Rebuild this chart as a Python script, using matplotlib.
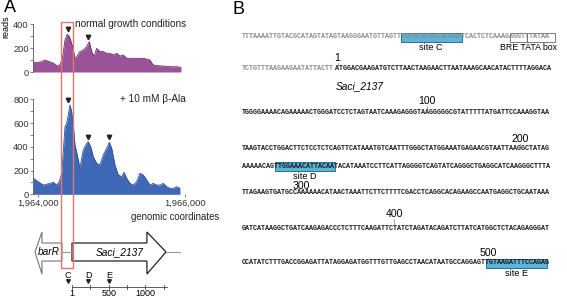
import numpy as np
import matplotlib.pyplot as plt
from matplotlib.patches import Rectangle, Polygon
from matplotlib.transforms import blended_transform_factory, offset_copy

plt.rcParams['font.family'] = ['Liberation Sans', 'DejaVu Sans']

W, H = 567, 299

# read coverage (genomic position, reads)
pos_normal = [1963932, 1963959, 1964000, 1964041, 1964095, 1964136, 1964190, 1964231,
              1964272, 1964309, 1964336, 1964367, 1964398, 1964422, 1964435, 1964472,
              1964503, 1964526, 1964571, 1964616, 1964662, 1964698, 1964730, 1964762,
              1964798, 1964843, 1964888, 1964934, 1964979, 1965024, 1965070, 1965115,
              1965160, 1965206, 1965251, 1965342, 1965432, 1965523, 1965564, 1965614,
              1965704, 1965795, 1965886, 1965945]
reads_normal = [75, 81, 80, 85, 100, 90, 78, 65,
                46, 72, 128, 267, 314, 300, 280, 211,
                114, 128, 170, 183, 211, 253, 170, 128,
                197, 170, 170, 156, 156, 142, 156, 133,
                142, 114, 114, 114, 114, 100, 60, 53,
                50, 44, 44, 39]

pos_ala = [1963936, 1964004, 1964072, 1964163, 1964208, 1964254, 1964290, 1964322,
           1964344, 1964367, 1964390, 1964412, 1964435, 1964458, 1964480, 1964503,
           1964534, 1964571, 1964594, 1964616, 1964662, 1964684, 1964717, 1964752,
           1964798, 1964843, 1964888, 1964934, 1964970, 1965003, 1965047, 1965092,
           1965138, 1965170, 1965206, 1965251, 1965296, 1965342, 1965387, 1965432,
           1965478, 1965523, 1965568, 1965614, 1965659, 1965704, 1965750, 1965795,
           1965840, 1965886, 1965931]
reads_ala = [135, 106, 78, 92, 101, 78, 106, 177,
             359, 569, 598, 668, 752, 695, 583, 415,
             331, 219, 303, 373, 429, 443, 401, 317,
             261, 247, 331, 387, 438, 387, 247, 163,
             148, 185, 135, 92, 78, 106, 177, 163,
             121, 78, 92, 78, 78, 92, 64, 50,
             50, 64, 50]

gene_start = 1964462
gene_len = 1280
barR_right = 1964326
barR_tip = 1963959
right_end = 1965931
sites = ['C', 'D', 'E']
site_pos = [-54, 224, 507]       # relative to start codon
sites_normal = ['C', 'D']
sites_ala = ['C', 'D', 'E']

# sequence panel
seq_lines = [
    "TTTAAAATTGTACGCATAGTATAGTAAGGGAATGTTAGTTTGTATATAATACAAATCACTCTCAAAGAGGTTTATAA",
    "TCTGTTTAAGAAGAATATTACTTATGGACGAAGATGTCTTAACTAAGAACTTAATAAAGCAACATACTTTTAGGACA",
    "TGGGGAAAACAGAAAAACTGGGATCCTCTAGTAATCAAAGAGGGTAAGGGGGCGTATTTTTATGATTCCAAAGGTAA",
    "TAAGTACCTGGACTTCTCCTCTCAGTTCATAAATGTCAATTTGGGCTATGGAAATGAGAACGTAATTAAGGCTATAG",
    "AAAAACAGTTGGAAACATTACAATACATAAATCCTTCATTAGGGGTCAGTATCAGGGCTGAGGCATCAAGGGCTTTA",
    "TTAGAAGTGATGCCAAAAAACATAACTAAATTCTTCTTTTCGACCTCAGGCACAGAAGCCAATGAGGCTGCAATAAA",
    "GATCATAAGGCTGATCAAGAGACCCTCTTTCAAGATTCTATCTAGATACAGATCTTATCATGGCTCTACAGAGGGAT",
    "CCATATCTTTGACCGGAGATTATAGGAGATGGTTTGTTGAGCCTAACATAATGCCAGGAGTTGTAAGATTTCCAGAG",
]
line_y = [37, 69, 112, 149, 166, 193, 229, 263]
atg_index = 77 + 23
site_boxes = [('site C', 0, 39, 54), ('site D', 4, 8, 23), ('site E', 7, 60, 75)]
promoter_boxes = [(0, 66, 70), (0, 70, 77)]
seq_marks = [1, 100, 200, 300, 400, 500]
mark_y = [58, 101, 139, 186, 214, 253]

fig = plt.figure(figsize=(W / 100, H / 100), dpi=100)


def rect(l, t, r, b):
    return [l / W, 1 - b / H, (r - l) / W, (b - t) / H]


ax1 = fig.add_axes(rect(33, 24, 185, 72))
ax2 = fig.add_axes(rect(33, 99.3, 185, 194.3))
ov = fig.add_axes([0, 0, 1, 1])
ov.set_xlim(0, W)
ov.set_ylim(H, 0)
ov.axis('off')
ov.patch.set_alpha(0)

site_g = dict(zip(sites, [gene_start + p for p in site_pos]))

for ax, pos, reads, fc, ec, top, mk in [
        (ax1, pos_normal, reads_normal, '#9a5399', '#6a2a6a', 400, sites_normal),
        (ax2, pos_ala, reads_ala, '#3f68b6', '#284f9c', 800, sites_ala)]:
    ax.fill_between(pos, reads, color=fc, lw=0)
    ax.plot(pos, reads, color=ec, lw=0.6)
    ax.set_xlim(1963932, 1966000)
    ax.set_ylim(0, top)
    for s in ['top', 'right', 'bottom']:
        ax.spines[s].set_visible(False)
    ax.spines['left'].set_color('#555555')
    ax.spines['left'].set_linewidth(0.6)
    ax.set_yticks(np.arange(0, top + 1, 200))
    ax.set_yticks(np.arange(0, top + 1, 100), minor=True)
    ax.tick_params(axis='y', which='both', length=2, width=0.5, color='#555555',
                   labelsize=6.7, labelcolor='#333333', pad=1)
    ax.patch.set_alpha(0)
    tr = offset_copy(ax.transData, fig=fig, y=3.5, units='points')
    p = np.array(pos)
    r = np.array(reads)
    for s in mk:
        g = site_g[s]
        peak = r[np.abs(p - g) <= 45].max()
        ax.plot(g, peak, marker='v', ms=3.2, color='#222222', transform=tr, clip_on=False)

ax1.set_xticks([])
ax2.set_xticks([1964000, 1966000])
ax2.set_xticklabels(['1,964,000', '1,966,000'])
ax2.tick_params(axis='x', length=2, width=0.5, color='#555555', labelsize=6.7,
                labelcolor='#333333', pad=1)

# labels panel A
ov.text(4, 7.5, 'A', fontsize=13, va='center', ha='left')
ov.text(6, 27, 'reads', fontsize=6.5, rotation=90, va='center', ha='center')
ov.text(75, 24, 'normal growth conditions', fontsize=7.2, va='center', color='#222222')
ov.text(120, 99, '+ 10 mM β-Ala', fontsize=7.2, va='center', color='#222222')
ov.text(175, 217, 'genomic coordinates', fontsize=6.9, va='center', ha='center', color='#222222')

bt = blended_transform_factory(ax2.transData, ov.transData)
head_l = barR_tip + 95
gene_end = gene_start + gene_len
head_r = gene_end - 260
ov.add_patch(Polygon([(barR_right, 243), (head_l, 243), (head_l, 232), (barR_tip, 252),
                      (head_l, 274), (head_l, 261), (barR_right, 261)],
                     closed=True, fc='white', ec='#777777', lw=0.8, transform=bt))
ov.plot([barR_right, gene_start], [252, 252], color='#999999', lw=0.8, transform=bt)
ov.add_patch(Polygon([(gene_start, 243), (head_r, 243), (head_r, 232), (gene_end, 252),
                      (head_r, 274), (head_r, 261), (gene_start, 261)],
                     closed=True, fc='white', ec='#222222', lw=0.9, transform=bt))
ov.plot([gene_end, right_end], [252, 252], color='#999999', lw=0.8, transform=bt)
ov.text((barR_tip + barR_right) / 2 + 5, 252, 'barR', style='italic', fontsize=7.3,
        ha='center', va='center', transform=bt)
ov.text(1965115, 252, 'Saci_2137', style='italic', fontsize=7.3,
        ha='center', va='center', transform=bt)

# promoter region box
ov.add_patch(Rectangle((gene_start - 149, 22), 159, 246, fill=False, ec='#e8736b',
                       lw=1.0, transform=bt, zorder=5))

# scale below gene
scale_end = gene_start + 1290
ov.plot([gene_start, scale_end], [287, 287], color='#444444', lw=0.6, transform=bt)
for t in range(0, 1300, 250):
    ov.plot([gene_start + t, gene_start + t], [285, 289], color='#444444', lw=0.6, transform=bt)
for t, lab in [(1, '1'), (500, '500'), (1000, '1000')]:
    ov.text(gene_start + t, 294, lab, fontsize=6.5, ha='center', va='center', transform=bt)
for s in sites:
    ov.text(site_g[s], 276, s, fontsize=6.5, ha='center', va='center', transform=bt)
    ov.plot(site_g[s], 281, marker='v', ms=2.6, color='#222222', transform=bt)

# panel B
ov.text(233, 9, 'B', fontsize=13, va='center', ha='left')
x0, x1 = 242, 555
cw = (x1 - x0) / 77
fs_seq = cw / 0.6 * 72 / 100
mono = dict(family='Liberation Mono', fontsize=fs_seq, va='center', ha='left',
            fontweight='bold', zorder=3)


def cx(i):
    return x0 + i * cw


for k, (s, y) in enumerate(zip(seq_lines, line_y)):
    if k == 0:
        ov.text(cx(0), y, s, color='#8a8a8a', **mono)
    elif k == 1:
        ov.text(cx(0), y, s[:23], color='#8a8a8a', **mono)
        ov.text(cx(23), y, s[23:], color='#1a1a1a', **mono)
    else:
        ov.text(cx(0), y, s, color='#1a1a1a', **mono)

for lab, ln, a, b in site_boxes:
    y = line_y[ln]
    ov.add_patch(Rectangle((cx(a), y - 4.5), cx(b) - cx(a), 9, fc='#5bb4da', ec='#2c6f8f',
                           lw=0.7, zorder=1))
    ov.text((cx(a) + cx(b)) / 2, y + 10.5, lab, fontsize=6.6, ha='center', va='center')
for ln, a, b in promoter_boxes:
    y = line_y[ln]
    ov.add_patch(Rectangle((cx(a), y - 4.5), cx(b) - cx(a), 9, fill=False, ec='#666666', lw=0.6))
ov.text(529, line_y[0] + 10.5, 'BRE TATA box', fontsize=6.3, ha='center', va='center')

for m, y in zip(seq_marks, mark_y):
    a = atg_index + m - 1
    ln, i = divmod(a, 77)
    xm = cx(i) + cw / 2
    ov.text(xm, y, str(m), fontsize=7.6, ha='center', va='center')
    ov.plot([xm, xm], [y + 4.5, line_y[ln] - 3], color='#888888', lw=0.5)

ov.text(cx(23), 86, 'Saci_2137', style='italic', fontsize=7.3, ha='left', va='center')

fig.savefig('out.png', dpi=100)
